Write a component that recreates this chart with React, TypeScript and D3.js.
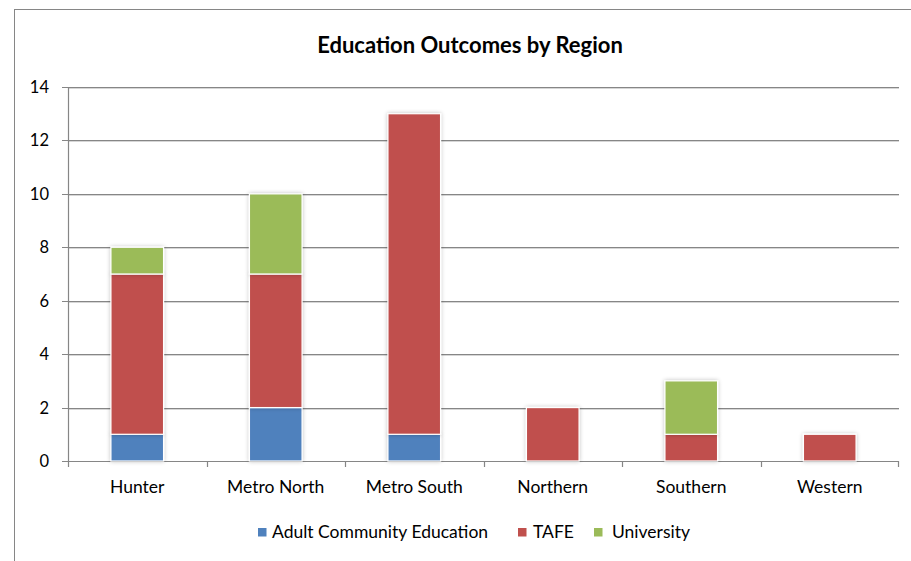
import React from "react";
import * as d3 from "d3";

const categories = ["Hunter", "Metro North", "Metro South", "Northern", "Southern", "Western"];
const seriesNames = ["Adult Community Education", "TAFE", "University"];
const adultCommunityEducation = [1, 2, 1, 0, 0, 0];
const tafe = [6, 5, 12, 2, 1, 1];
const university = [1, 3, 0, 0, 2, 0];
const yTicks = [0, 2, 4, 6, 8, 10, 12, 14];
const colors = ["#4F81BD", "#C0504D", "#9BBB59"];

const W = 911;
const H = 561;
const margin = { left: 68, right: 12, top: 87, bottom: 100 };
const FONT = "Lato, 'Open Sans', sans-serif";

export default function App() {
  const plotRight = 899;
  const plotBottom = 461;
  const x = d3.scaleBand<string>().domain(categories).range([margin.left, plotRight]).paddingInner(0.62).paddingOuter(0.31);
  const xBand = d3.scaleBand<string>().domain(categories).range([margin.left, plotRight]);
  const y = d3.scaleLinear().domain([0, 14]).range([plotBottom, margin.top]);

  const table = categories.map((c, i) => ({
    cat: c,
    "Adult Community Education": adultCommunityEducation[i],
    TAFE: tafe[i],
    University: university[i],
  }));
  const stacked = d3.stack<any>().keys(seriesNames)(table);

  const legendItems = [
    { name: seriesNames[0], sq: 258, tx: 272 },
    { name: seriesNames[1], sq: 518, tx: 533 },
    { name: seriesNames[2], sq: 594, tx: 612 },
  ];

  return (
    <svg width={W} height={H} style={{ position: "absolute", left: 0, top: 0, background: "#fff" }}>
      <defs>
        <filter id="sh" x="-30%" y="-10%" width="160%" height="120%">
          <feGaussianBlur in="SourceAlpha" stdDeviation="2" />
          <feOffset dx="0" dy="0" result="b" />
          <feComponentTransfer><feFuncA type="linear" slope="0.25" /></feComponentTransfer>
          <feMerge><feMergeNode /><feMergeNode in="SourceGraphic" /></feMerge>
        </filter>
      </defs>
      <rect x={14.5} y={9.5} width={W} height={H} fill="#fff" stroke="#868686" strokeWidth={1} />
      <text x={470} y={53} textAnchor="middle" fontFamily={FONT} fontWeight="bold" fontSize={22} fill="#000">
        Education Outcomes by Region
      </text>
      {/* gridlines */}
      {yTicks.map((t) => (
        <g key={t}>
          {t > 0 && (
            <line x1={margin.left} x2={plotRight} y1={Math.round(y(t)) + 1.5} y2={Math.round(y(t)) + 1.5} stroke="#d6d6d6" strokeWidth={1} />
          )}
          <line x1={62} x2={plotRight} y1={Math.round(y(t)) + 0.5} y2={Math.round(y(t)) + 0.5} stroke="#868686" strokeWidth={1.2} />
          <text x={49} y={y(t) + 6} textAnchor="end" fontFamily={FONT} fontSize={16.5} fill="#000">{t}</text>
        </g>
      ))}
      {/* y axis */}
      <line x1={68.5} x2={68.5} y1={margin.top} y2={plotBottom} stroke="#868686" strokeWidth={1.2} />
      {/* x ticks */}
      {categories.map((c) => (
        <line key={c} x1={Math.round(xBand(c)!) + 0.5} x2={Math.round(xBand(c)!) + 0.5} y1={plotBottom} y2={plotBottom + 6} stroke="#868686" strokeWidth={1.2} />
      ))}
      <line x1={plotRight - 0.5} x2={plotRight - 0.5} y1={plotBottom} y2={plotBottom + 6} stroke="#868686" strokeWidth={1.2} />
      {/* bars */}
      {stacked.map((s, si) => (
        <g key={s.key} filter="url(#sh)">
          {s.map((d, i) =>
            d[1] - d[0] > 0 ? (
              <rect key={i} x={x(categories[i])!} y={y(d[1])} width={x.bandwidth()} height={y(d[0]) - y(d[1])} fill={colors[si]} stroke="#fff" strokeWidth={1.2} />
            ) : null
          )}
        </g>
      ))}
      {/* category labels */}
      {categories.map((c) => (
        <text key={c} x={xBand(c)! + xBand.bandwidth() / 2} y={493} textAnchor="middle" fontFamily={FONT} fontSize={17.5} fill="#000">{c}</text>
      ))}
      {/* legend */}
      {legendItems.map((l, i) => (
        <g key={l.name}>
          <rect x={l.sq} y={528} width={8.5} height={8.5} fill={colors[i]} />
          <text x={l.tx} y={537.5} fontFamily={FONT} fontSize={17.5} fill="#000">{l.name}</text>
        </g>
      ))}
    </svg>
  );
}
